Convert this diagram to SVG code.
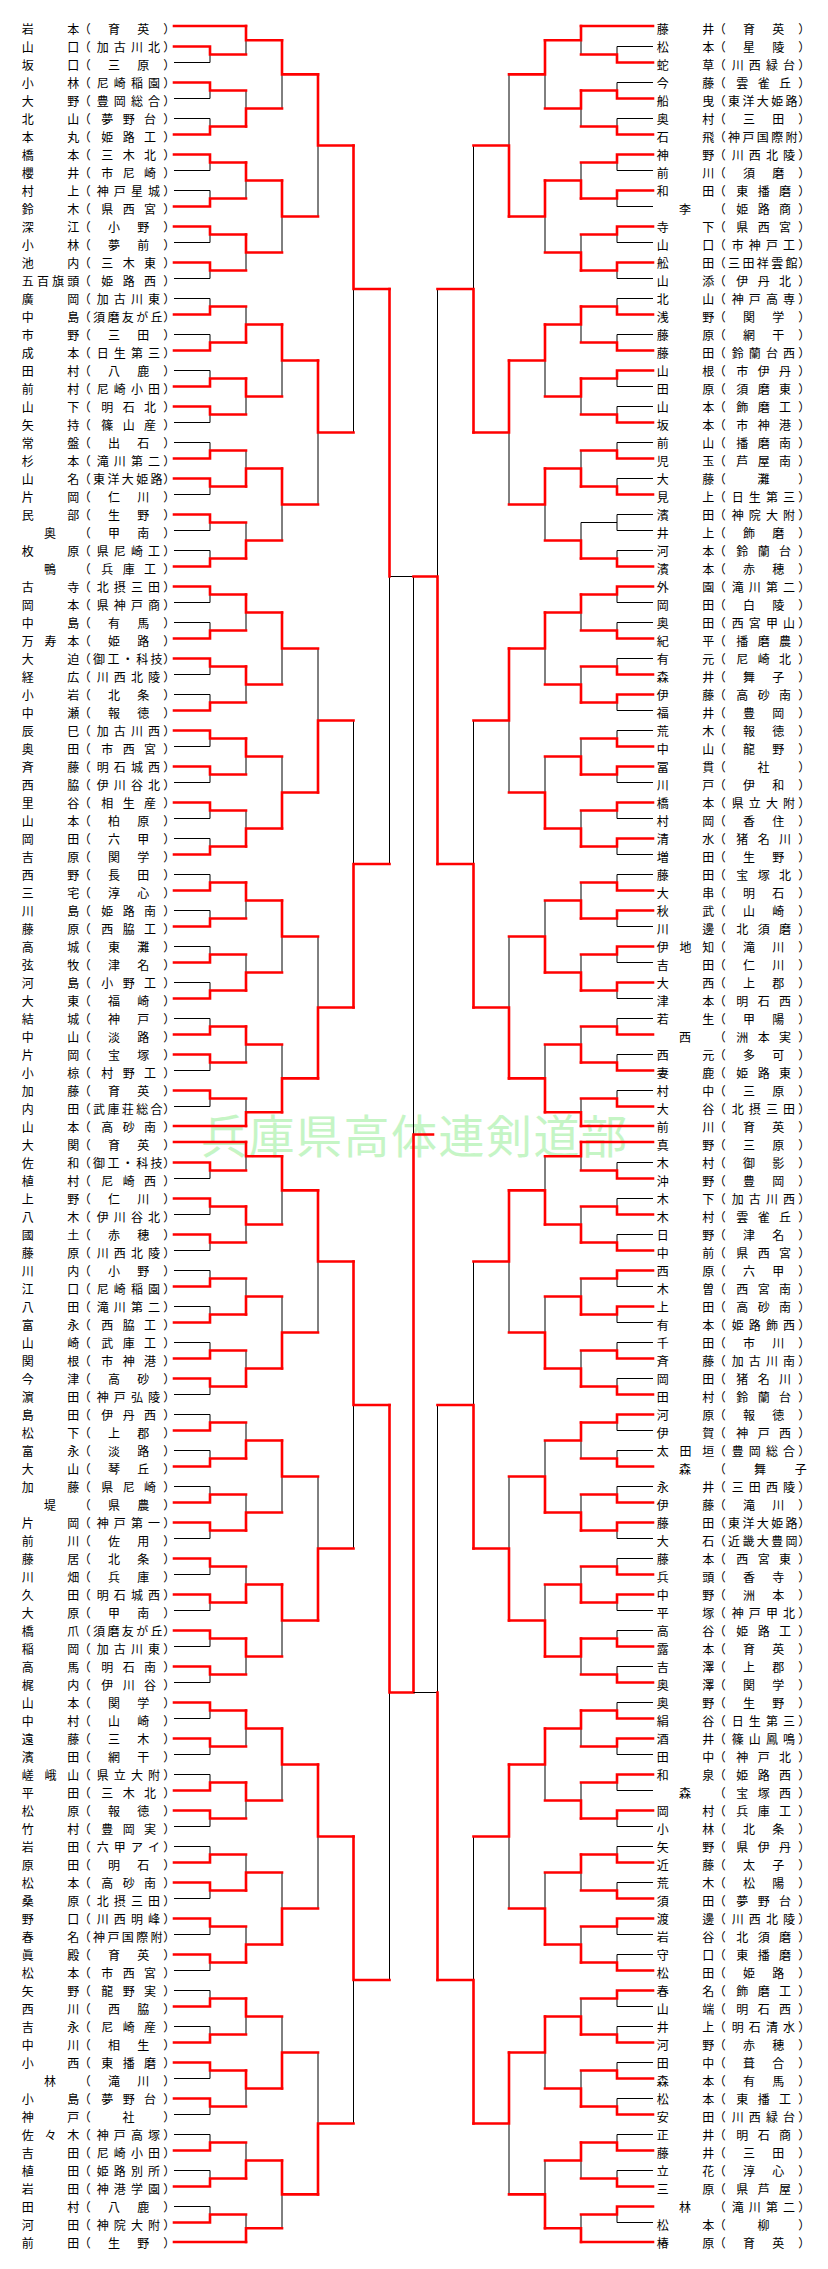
<svg xmlns="http://www.w3.org/2000/svg" width="828" height="2269" viewBox="0 0 828 2269">
<style>
.t{font-family:"Noto Sans CJK JP","Noto Sans CJK SC",sans-serif;font-size:12px;text-anchor:middle;fill:#000}
.k{fill:none;stroke:#000;stroke-width:1}
.r{fill:none;stroke:#f00;stroke-width:2.6;stroke-linecap:square;stroke-linejoin:miter}
.wm{font-family:"Noto Sans CJK JP","Noto Sans CJK SC",sans-serif;font-size:46px;fill:#c5f5c5}
</style>
<rect width="828" height="2269" fill="#fff"/>
<text class="wm" x="201" y="1153" textLength="426" lengthAdjust="spacing">兵庫県高体連剣道部</text>
<g id="connectors">
<g id="left-lines">
<path class="k" d="M174 62.5H210V54.5M174 98.5H210V90.5M174 118.5H210V126.5M174 170.5H210V162.5M174 190.5H210V198.5M174 242.5H210V234.5M174 278.5H210V270.5M174 298.5H210V306.5M174 334.5H210V342.5M174 370.5H210V378.5M174 422.5H210V414.5M174 442.5H210V450.5M174 494.5H210V486.5M174 530.5H210V522.5M174 550.5H210V558.5M174 602.5H210V594.5M174 622.5H210V630.5M174 674.5H210V666.5M174 694.5H210V702.5M174 746.5H210V738.5M174 782.5H210V774.5M174 818.5H210V810.5M174 838.5H210V846.5M174 874.5H210V882.5M174 910.5H210V918.5M174 946.5H210V954.5M174 982.5H210V990.5M174 1018.5H210V1026.5M174 1070.5H210V1062.5M174 1106.5H210V1098.5M174 1178.5H210V1170.5M174 1214.5H210V1206.5M174 1250.5H210V1242.5M174 1270.5H210V1278.5M174 1306.5H210V1314.5M174 1342.5H210V1350.5M174 1394.5H210V1386.5M174 1414.5H210V1422.5M174 1450.5H210V1458.5M174 1486.5H210V1494.5M174 1538.5H210V1530.5M174 1574.5H210V1566.5M174 1610.5H210V1602.5M174 1646.5H210V1638.5M174 1682.5H210V1674.5M174 1718.5H210V1710.5M174 1754.5H210V1746.5M174 1774.5H210V1782.5M174 1826.5H210V1818.5M174 1846.5H210V1854.5M174 1898.5H210V1890.5M174 1934.5H210V1926.5M174 1970.5H210V1962.5M174 1990.5H210V1998.5M174 2026.5H210V2034.5M174 2078.5H210V2070.5M174 2114.5H210V2106.5M174 2134.5H210V2142.5M174 2170.5H210V2178.5M174 2206.5H210V2214.5"/>
<path class="k" d="M246 54.5V40.3M246 90.5V108.5M246 198.5V180.5M246 270.5V252.5M246 306.5V324.5M246 414.5V396.5M246 450.5V468.5M246 522.5V540.5M246 630.5V612.5M246 702.5V684.5M246 774.5V756.5M246 810.5V828.5M246 918.5V900.5M246 954.5V972.5M246 1062.5V1044.5M246 1098.5V1112.3M246 1170.5V1156.3M246 1242.5V1224.5M246 1278.5V1296.5M246 1350.5V1368.5M246 1422.5V1440.5M246 1494.5V1512.5M246 1566.5V1584.5M246 1674.5V1656.5M246 1746.5V1728.5M246 1818.5V1800.5M246 1854.5V1872.5M246 1926.5V1944.5M246 2034.5V2016.5M246 2106.5V2088.5M246 2142.5V2160.5M246 2214.5V2228.3"/>
<path class="k" d="M282 108.5V74.4M282 252.5V216.5M282 396.5V360.5M282 540.5V504.5M282 684.5V648.5M282 756.5V792.5M282 972.5V936.5M282 1044.5V1078.4M282 1224.5V1190.4M282 1296.5V1332.5M282 1512.5V1476.5M282 1656.5V1620.5M282 1800.5V1764.5M282 1872.5V1908.5M282 2016.5V2052.5M282 2228.3V2194.4"/>
<path class="k" d="M318 216.5V145.5M318 504.5V432.5M318 648.5V720.5M318 936.5V1007.5M318 1332.5V1261.5M318 1476.5V1548.5M318 1908.5V1836.5M318 2052.5V2123.5"/>
<path class="k" d="M353.5 432.5V289M353.5 720.5V864M353.5 1548.5V1405M353.5 2123.5V1980"/>
<path class="k" d="M389.5 864V576.5H413.5M389.5 1980V1692.5M413.5 576.5V1134.5"/>
<path class="r" d="M174 26H246M174 1126H246M174 1142H246M174 2242H246M174 46.5H210V54.5H246M174 82.5H210V90.5H246M174 134.5H210V126.5H246M174 154.5H210V162.5H246M174 206.5H210V198.5H246M174 226.5H210V234.5H246M174 262.5H210V270.5H246M174 314.5H210V306.5H246M174 350.5H210V342.5H246M174 386.5H210V378.5H246M174 406.5H210V414.5H246M174 458.5H210V450.5H246M174 478.5H210V486.5H246M174 514.5H210V522.5H246M174 566.5H210V558.5H246M174 586.5H210V594.5H246M174 638.5H210V630.5H246M174 658.5H210V666.5H246M174 710.5H210V702.5H246M174 730.5H210V738.5H246M174 766.5H210V774.5H246M174 802.5H210V810.5H246M174 854.5H210V846.5H246M174 890.5H210V882.5H246M174 926.5H210V918.5H246M174 962.5H210V954.5H246M174 998.5H210V990.5H246M174 1034.5H210V1026.5H246M174 1054.5H210V1062.5H246M174 1090.5H210V1098.5H246M174 1162.5H210V1170.5H246M174 1198.5H210V1206.5H246M174 1234.5H210V1242.5H246M174 1286.5H210V1278.5H246M174 1322.5H210V1314.5H246M174 1358.5H210V1350.5H246M174 1378.5H210V1386.5H246M174 1430.5H210V1422.5H246M174 1466.5H210V1458.5H246M174 1502.5H210V1494.5H246M174 1522.5H210V1530.5H246M174 1558.5H210V1566.5H246M174 1594.5H210V1602.5H246M174 1630.5H210V1638.5H246M174 1666.5H210V1674.5H246M174 1702.5H210V1710.5H246M174 1738.5H210V1746.5H246M174 1790.5H210V1782.5H246M174 1810.5H210V1818.5H246M174 1862.5H210V1854.5H246M174 1882.5H210V1890.5H246M174 1918.5H210V1926.5H246M174 1954.5H210V1962.5H246M174 2006.5H210V1998.5H246M174 2042.5H210V2034.5H246M174 2062.5H210V2070.5H246M174 2098.5H210V2106.5H246M174 2150.5H210V2142.5H246M174 2186.5H210V2178.5H246M174 2222.5H210V2214.5H246"/>
<path class="r" d="M246 26V40.3H282M246 126.5V108.5H282M246 162.5V180.5H282M246 234.5V252.5H282M246 342.5V324.5H282M246 378.5V396.5H282M246 486.5V468.5H282M246 558.5V540.5H282M246 594.5V612.5H282M246 666.5V684.5H282M246 738.5V756.5H282M246 846.5V828.5H282M246 882.5V900.5H282M246 990.5V972.5H282M246 1026.5V1044.5H282M246 1126V1112.3H282M246 1142V1156.3H282M246 1206.5V1224.5H282M246 1314.5V1296.5H282M246 1386.5V1368.5H282M246 1458.5V1440.5H282M246 1530.5V1512.5H282M246 1602.5V1584.5H282M246 1638.5V1656.5H282M246 1710.5V1728.5H282M246 1782.5V1800.5H282M246 1890.5V1872.5H282M246 1962.5V1944.5H282M246 1998.5V2016.5H282M246 2070.5V2088.5H282M246 2178.5V2160.5H282M246 2242V2228.3H282"/>
<path class="r" d="M282 40.3V74.4H318M282 180.5V216.5H318M282 324.5V360.5H318M282 468.5V504.5H318M282 612.5V648.5H318M282 828.5V792.5H318M282 900.5V936.5H318M282 1112.3V1078.4H318M282 1156.3V1190.4H318M282 1368.5V1332.5H318M282 1440.5V1476.5H318M282 1584.5V1620.5H318M282 1728.5V1764.5H318M282 1944.5V1908.5H318M282 2088.5V2052.5H318M282 2160.5V2194.4H318"/>
<path class="r" d="M318 74.4V145.5H353.5M318 360.5V432.5H353.5M318 792.5V720.5H353.5M318 1078.4V1007.5H353.5M318 1190.4V1261.5H353.5M318 1620.5V1548.5H353.5M318 1764.5V1836.5H353.5M318 2194.4V2123.5H353.5"/>
<path class="r" d="M353.5 145.5V289H389.5M353.5 1007.5V864H389.5M353.5 1261.5V1405H389.5M353.5 1836.5V1980H389.5"/>
<path class="r" d="M389.5 289V576.5M389.5 1405V1692.5H413.5M413.5 1692.5V1134.5H433"/>
</g>
<g id="right-lines" transform="matrix(-1 0 0 1 827 0)">
<path class="k" d="M174 46.5H210V54.5M174 82.5H210V90.5M174 118.5H210V126.5M174 170.5H210V162.5M174 206.5H210V198.5M174 242.5H210V234.5M174 278.5H210V270.5M174 298.5H210V306.5M174 334.5H210V342.5M174 386.5H210V378.5M174 406.5H210V414.5M174 442.5H210V450.5M174 478.5H210V486.5M174 514.5H210V530.5H174M210 522.5H246M174 550.5H210V558.5M174 602.5H210V594.5M174 622.5H210V630.5M174 658.5H210V666.5M174 710.5H210V702.5M174 730.5H210V738.5M174 782.5H210V774.5M174 818.5H210V810.5M174 854.5H210V846.5M174 874.5H210V882.5M174 926.5H210V918.5M174 962.5H210V954.5M174 998.5H210V990.5M174 1018.5H210V1026.5M174 1054.5H210V1062.5M174 1090.5H210V1098.5M174 1162.5H210V1170.5M174 1198.5H210V1206.5M174 1234.5H210V1242.5M174 1286.5H210V1278.5M174 1322.5H210V1314.5M174 1342.5H210V1350.5M174 1378.5H210V1386.5M174 1430.5H210V1422.5M174 1450.5H210V1458.5M174 1486.5H210V1494.5M174 1538.5H210V1530.5M174 1558.5H210V1566.5M174 1610.5H210V1602.5M174 1630.5H210V1638.5M174 1666.5H210V1674.5M174 1702.5H210V1710.5M174 1754.5H210V1746.5M174 1790.5H210V1782.5M174 1826.5H210V1818.5M174 1846.5H210V1854.5M174 1882.5H210V1890.5M174 1934.5H210V1926.5M174 1954.5H210V1962.5M174 2006.5H210V1998.5M174 2026.5H210V2034.5M174 2062.5H210V2070.5M174 2098.5H210V2106.5M174 2134.5H210V2142.5M174 2170.5H210V2178.5M174 2222.5H210V2214.5"/>
<path class="k" d="M246 54.5V40.3M246 126.5V108.5M246 162.5V180.5M246 234.5V252.5M246 342.5V324.5M246 414.5V396.5M246 450.5V468.5M246 522.5V540.5M246 630.5V612.5M246 666.5V684.5M246 738.5V756.5M246 810.5V828.5M246 882.5V900.5M246 954.5V972.5M246 1026.5V1044.5M246 1098.5V1112.3M246 1170.5V1156.3M246 1206.5V1224.5M246 1278.5V1296.5M246 1350.5V1368.5M246 1458.5V1440.5M246 1494.5V1512.5M246 1566.5V1584.5M246 1674.5V1656.5M246 1746.5V1728.5M246 1782.5V1800.5M246 1890.5V1872.5M246 1926.5V1944.5M246 1998.5V2016.5M246 2070.5V2088.5M246 2178.5V2160.5M246 2214.5V2228.3"/>
<path class="k" d="M282 108.5V74.4M282 252.5V216.5M282 396.5V360.5M282 540.5V504.5M282 684.5V648.5M282 756.5V792.5M282 900.5V936.5M282 1044.5V1078.4M282 1156.3V1190.4M282 1296.5V1332.5M282 1440.5V1476.5M282 1584.5V1620.5M282 1800.5V1764.5M282 1872.5V1908.5M282 2088.5V2052.5M282 2160.5V2194.4"/>
<path class="k" d="M318 74.4V145.5M318 504.5V432.5M318 792.5V720.5M318 936.5V1007.5M318 1332.5V1261.5M318 1476.5V1548.5M318 1908.5V1836.5M318 2194.4V2123.5"/>
<path class="k" d="M353.5 145.5V289M353.5 720.5V864M353.5 1261.5V1405M353.5 1836.5V1980"/>
<path class="k" d="M389.5 289V576.5M389.5 1405V1692.5H413.5"/>
<path class="r" d="M174 26H246M174 1126H246M174 1142H246M174 2242H246M174 62.5H210V54.5H246M174 98.5H210V90.5H246M174 134.5H210V126.5H246M174 154.5H210V162.5H246M174 190.5H210V198.5H246M174 226.5H210V234.5H246M174 262.5H210V270.5H246M174 314.5H210V306.5H246M174 350.5H210V342.5H246M174 370.5H210V378.5H246M174 422.5H210V414.5H246M174 458.5H210V450.5H246M174 494.5H210V486.5H246M174 566.5H210V558.5H246M174 586.5H210V594.5H246M174 638.5H210V630.5H246M174 674.5H210V666.5H246M174 694.5H210V702.5H246M174 746.5H210V738.5H246M174 766.5H210V774.5H246M174 802.5H210V810.5H246M174 838.5H210V846.5H246M174 890.5H210V882.5H246M174 910.5H210V918.5H246M174 946.5H210V954.5H246M174 982.5H210V990.5H246M174 1034.5H210V1026.5H246M174 1070.5H210V1062.5H246M174 1106.5H210V1098.5H246M174 1178.5H210V1170.5H246M174 1214.5H210V1206.5H246M174 1250.5H210V1242.5H246M174 1270.5H210V1278.5H246M174 1306.5H210V1314.5H246M174 1358.5H210V1350.5H246M174 1394.5H210V1386.5H246M174 1414.5H210V1422.5H246M174 1466.5H210V1458.5H246M174 1502.5H210V1494.5H246M174 1522.5H210V1530.5H246M174 1574.5H210V1566.5H246M174 1594.5H210V1602.5H246M174 1646.5H210V1638.5H246M174 1682.5H210V1674.5H246M174 1718.5H210V1710.5H246M174 1738.5H210V1746.5H246M174 1774.5H210V1782.5H246M174 1810.5H210V1818.5H246M174 1862.5H210V1854.5H246M174 1898.5H210V1890.5H246M174 1918.5H210V1926.5H246M174 1970.5H210V1962.5H246M174 1990.5H210V1998.5H246M174 2042.5H210V2034.5H246M174 2078.5H210V2070.5H246M174 2114.5H210V2106.5H246M174 2150.5H210V2142.5H246M174 2186.5H210V2178.5H246M174 2206.5H210V2214.5H246"/>
<path class="r" d="M246 26V40.3H282M246 90.5V108.5H282M246 198.5V180.5H282M246 270.5V252.5H282M246 306.5V324.5H282M246 378.5V396.5H282M246 486.5V468.5H282M246 558.5V540.5H282M246 594.5V612.5H282M246 702.5V684.5H282M246 774.5V756.5H282M246 846.5V828.5H282M246 918.5V900.5H282M246 990.5V972.5H282M246 1062.5V1044.5H282M246 1126V1112.3H282M246 1142V1156.3H282M246 1242.5V1224.5H282M246 1314.5V1296.5H282M246 1386.5V1368.5H282M246 1422.5V1440.5H282M246 1530.5V1512.5H282M246 1602.5V1584.5H282M246 1638.5V1656.5H282M246 1710.5V1728.5H282M246 1818.5V1800.5H282M246 1854.5V1872.5H282M246 1962.5V1944.5H282M246 2034.5V2016.5H282M246 2106.5V2088.5H282M246 2142.5V2160.5H282M246 2242V2228.3H282"/>
<path class="r" d="M282 40.3V74.4H318M282 180.5V216.5H318M282 324.5V360.5H318M282 468.5V504.5H318M282 612.5V648.5H318M282 828.5V792.5H318M282 972.5V936.5H318M282 1112.3V1078.4H318M282 1224.5V1190.4H318M282 1368.5V1332.5H318M282 1512.5V1476.5H318M282 1656.5V1620.5H318M282 1728.5V1764.5H318M282 1944.5V1908.5H318M282 2016.5V2052.5H318M282 2228.3V2194.4H318"/>
<path class="r" d="M318 216.5V145.5H353.5M318 360.5V432.5H353.5M318 648.5V720.5H353.5M318 1078.4V1007.5H353.5M318 1190.4V1261.5H353.5M318 1620.5V1548.5H353.5M318 1764.5V1836.5H353.5M318 2052.5V2123.5H353.5"/>
<path class="r" d="M353.5 432.5V289H389.5M353.5 1007.5V864H389.5M353.5 1548.5V1405H389.5M353.5 2123.5V1980H389.5"/>
<path class="r" d="M389.5 864V576.5H413.5M389.5 1980V1692.5"/>
</g>
</g>
<g id="left-entries">
<g id="L0"><text class="t" y="33.5" x="27.7 73.3 84.7 114 143.3 169.3">岩本（育英）</text></g>
<g id="L1" transform="translate(0,18)"><text class="t" y="33.5" x="27.7 73.3 84.7 102.7 119.8 136.9 154 169.3">山口（加古川北）</text></g>
<g id="L2" transform="translate(0,36)"><text class="t" y="33.5" x="27.7 73.3 84.7 114 143.3 169.3">坂口（三原）</text></g>
<g id="L3" transform="translate(0,54)"><text class="t" y="33.5" x="27.7 73.3 84.7 102.7 119.8 136.9 154 169.3">小林（尼崎稲園）</text></g>
<g id="L4" transform="translate(0,72)"><text class="t" y="33.5" x="27.7 73.3 84.7 102.7 119.8 136.9 154 169.3">大野（豊岡総合）</text></g>
<g id="L5" transform="translate(0,90)"><text class="t" y="33.5" x="27.7 73.3 84.7 107.3 128.7 150 169.3">北山（夢野台）</text></g>
<g id="L6" transform="translate(0,108)"><text class="t" y="33.5" x="27.7 73.3 84.7 107.3 128.7 150 169.3">本丸（姫路工）</text></g>
<g id="L7" transform="translate(0,126)"><text class="t" y="33.5" x="27.7 73.3 84.7 107.3 128.7 150 169.3">橋本（三木北）</text></g>
<g id="L8" transform="translate(0,144)"><text class="t" y="33.5" x="27.7 73.3 84.7 107.3 128.7 150 169.3">櫻井（市尼崎）</text></g>
<g id="L9" transform="translate(0,162)"><text class="t" y="33.5" x="27.7 73.3 84.7 102.7 119.8 136.9 154 169.3">村上（神戸星城）</text></g>
<g id="L10" transform="translate(0,180)"><text class="t" y="33.5" x="27.7 73.3 84.7 107.3 128.7 150 169.3">鈴木（県西宮）</text></g>
<g id="L11" transform="translate(0,198)"><text class="t" y="33.5" x="27.7 73.3 84.7 114 143.3 169.3">深江（小野）</text></g>
<g id="L12" transform="translate(0,216)"><text class="t" y="33.5" x="27.7 73.3 84.7 114 143.3 169.3">小林（夢前）</text></g>
<g id="L13" transform="translate(0,234)"><text class="t" y="33.5" x="27.7 73.3 84.7 107.3 128.7 150 169.3">池内（三木東）</text></g>
<g id="L14" transform="translate(0,252)"><text class="t" y="33.5" x="27.7 42.9 58.1 73.3 84.7 107.3 128.7 150 169.3">五百旗頭（姫路西）</text></g>
<g id="L15" transform="translate(0,270)"><text class="t" y="33.5" x="27.7 73.3 84.7 102.7 119.8 136.9 154 169.3">廣岡（加古川東）</text></g>
<g id="L16" transform="translate(0,288)"><text class="t" y="33.5" x="27.7 73.3 84.7 99 113.4 127.8 142.2 156.6 169.3">中島（須磨友が丘）</text></g>
<g id="L17" transform="translate(0,306)"><text class="t" y="33.5" x="27.7 73.3 84.7 114 143.3 169.3">市野（三田）</text></g>
<g id="L18" transform="translate(0,324)"><text class="t" y="33.5" x="27.7 73.3 84.7 102.7 119.8 136.9 154 169.3">成本（日生第三）</text></g>
<g id="L19" transform="translate(0,342)"><text class="t" y="33.5" x="27.7 73.3 84.7 114 143.3 169.3">田村（八鹿）</text></g>
<g id="L20" transform="translate(0,360)"><text class="t" y="33.5" x="27.7 73.3 84.7 102.7 119.8 136.9 154 169.3">前村（尼崎小田）</text></g>
<g id="L21" transform="translate(0,378)"><text class="t" y="33.5" x="27.7 73.3 84.7 107.3 128.7 150 169.3">山下（明石北）</text></g>
<g id="L22" transform="translate(0,396)"><text class="t" y="33.5" x="27.7 73.3 84.7 107.3 128.7 150 169.3">矢持（篠山産）</text></g>
<g id="L23" transform="translate(0,414)"><text class="t" y="33.5" x="27.7 73.3 84.7 114 143.3 169.3">常盤（出石）</text></g>
<g id="L24" transform="translate(0,432)"><text class="t" y="33.5" x="27.7 73.3 84.7 102.7 119.8 136.9 154 169.3">杉本（滝川第二）</text></g>
<g id="L25" transform="translate(0,450)"><text class="t" y="33.5" x="27.7 73.3 84.7 99 113.4 127.8 142.2 156.6 169.3">山名（東洋大姫路）</text></g>
<g id="L26" transform="translate(0,468)"><text class="t" y="33.5" x="27.7 73.3 84.7 114 143.3 169.3">片岡（仁川）</text></g>
<g id="L27" transform="translate(0,486)"><text class="t" y="33.5" x="27.7 73.3 84.7 114 143.3 169.3">民部（生野）</text></g>
<g id="L28" transform="translate(0,504)"><text class="t" y="33.5" x="50 84.7 114 143.3 169.3">奥（甲南）</text></g>
<g id="L29" transform="translate(0,522)"><text class="t" y="33.5" x="27.7 73.3 84.7 102.7 119.8 136.9 154 169.3">枚原（県尼崎工）</text></g>
<g id="L30" transform="translate(0,540)"><text class="t" y="33.5" x="50 84.7 107.3 128.7 150 169.3">鴨（兵庫工）</text></g>
<g id="L31" transform="translate(0,558)"><text class="t" y="33.5" x="27.7 73.3 84.7 102.7 119.8 136.9 154 169.3">古寺（北摂三田）</text></g>
<g id="L32" transform="translate(0,576)"><text class="t" y="33.5" x="27.7 73.3 84.7 102.7 119.8 136.9 154 169.3">岡本（県神戸商）</text></g>
<g id="L33" transform="translate(0,594)"><text class="t" y="33.5" x="27.7 73.3 84.7 114 143.3 169.3">中島（有馬）</text></g>
<g id="L34" transform="translate(0,612)"><text class="t" y="33.5" x="27.7 50.5 73.3 84.7 114 143.3 169.3">万寿本（姫路）</text></g>
<g id="L35" transform="translate(0,630)"><text class="t" y="33.5" x="27.7 73.3 84.7 99 113.4 127.8 142.2 156.6 169.3">大迫（御工・科技）</text></g>
<g id="L36" transform="translate(0,648)"><text class="t" y="33.5" x="27.7 73.3 84.7 102.7 119.8 136.9 154 169.3">経広（川西北陵）</text></g>
<g id="L37" transform="translate(0,666)"><text class="t" y="33.5" x="27.7 73.3 84.7 114 143.3 169.3">小岩（北条）</text></g>
<g id="L38" transform="translate(0,684)"><text class="t" y="33.5" x="27.7 73.3 84.7 114 143.3 169.3">中瀬（報徳）</text></g>
<g id="L39" transform="translate(0,702)"><text class="t" y="33.5" x="27.7 73.3 84.7 102.7 119.8 136.9 154 169.3">辰巳（加古川西）</text></g>
<g id="L40" transform="translate(0,720)"><text class="t" y="33.5" x="27.7 73.3 84.7 107.3 128.7 150 169.3">奥田（市西宮）</text></g>
<g id="L41" transform="translate(0,738)"><text class="t" y="33.5" x="27.7 73.3 84.7 102.7 119.8 136.9 154 169.3">斉藤（明石城西）</text></g>
<g id="L42" transform="translate(0,756)"><text class="t" y="33.5" x="27.7 73.3 84.7 102.7 119.8 136.9 154 169.3">西脇（伊川谷北）</text></g>
<g id="L43" transform="translate(0,774)"><text class="t" y="33.5" x="27.7 73.3 84.7 107.3 128.7 150 169.3">里谷（相生産）</text></g>
<g id="L44" transform="translate(0,792)"><text class="t" y="33.5" x="27.7 73.3 84.7 114 143.3 169.3">山本（柏原）</text></g>
<g id="L45" transform="translate(0,810)"><text class="t" y="33.5" x="27.7 73.3 84.7 114 143.3 169.3">岡田（六甲）</text></g>
<g id="L46" transform="translate(0,828)"><text class="t" y="33.5" x="27.7 73.3 84.7 114 143.3 169.3">吉原（関学）</text></g>
<g id="L47" transform="translate(0,846)"><text class="t" y="33.5" x="27.7 73.3 84.7 114 143.3 169.3">西野（長田）</text></g>
<g id="L48" transform="translate(0,864)"><text class="t" y="33.5" x="27.7 73.3 84.7 114 143.3 169.3">三宅（淳心）</text></g>
<g id="L49" transform="translate(0,882)"><text class="t" y="33.5" x="27.7 73.3 84.7 107.3 128.7 150 169.3">川島（姫路南）</text></g>
<g id="L50" transform="translate(0,900)"><text class="t" y="33.5" x="27.7 73.3 84.7 107.3 128.7 150 169.3">藤原（西脇工）</text></g>
<g id="L51" transform="translate(0,918)"><text class="t" y="33.5" x="27.7 73.3 84.7 114 143.3 169.3">高城（東灘）</text></g>
<g id="L52" transform="translate(0,936)"><text class="t" y="33.5" x="27.7 73.3 84.7 114 143.3 169.3">弦牧（津名）</text></g>
<g id="L53" transform="translate(0,954)"><text class="t" y="33.5" x="27.7 73.3 84.7 107.3 128.7 150 169.3">河島（小野工）</text></g>
<g id="L54" transform="translate(0,972)"><text class="t" y="33.5" x="27.7 73.3 84.7 114 143.3 169.3">大東（福崎）</text></g>
<g id="L55" transform="translate(0,990)"><text class="t" y="33.5" x="27.7 73.3 84.7 114 143.3 169.3">結城（神戸）</text></g>
<g id="L56" transform="translate(0,1008)"><text class="t" y="33.5" x="27.7 73.3 84.7 114 143.3 169.3">中山（淡路）</text></g>
<g id="L57" transform="translate(0,1026)"><text class="t" y="33.5" x="27.7 73.3 84.7 114 143.3 169.3">片岡（宝塚）</text></g>
<g id="L58" transform="translate(0,1044)"><text class="t" y="33.5" x="27.7 73.3 84.7 107.3 128.7 150 169.3">小椋（村野工）</text></g>
<g id="L59" transform="translate(0,1062)"><text class="t" y="33.5" x="27.7 73.3 84.7 114 143.3 169.3">加藤（育英）</text></g>
<g id="L60" transform="translate(0,1080)"><text class="t" y="33.5" x="27.7 73.3 84.7 99 113.4 127.8 142.2 156.6 169.3">内田（武庫荘総合）</text></g>
<g id="L61" transform="translate(0,1098)"><text class="t" y="33.5" x="27.7 73.3 84.7 107.3 128.7 150 169.3">山本（高砂南）</text></g>
<g id="L62" transform="translate(0,1116)"><text class="t" y="33.5" x="27.7 73.3 84.7 114 143.3 169.3">大関（育英）</text></g>
<g id="L63" transform="translate(0,1134)"><text class="t" y="33.5" x="27.7 73.3 84.7 99 113.4 127.8 142.2 156.6 169.3">佐和（御工・科技）</text></g>
<g id="L64" transform="translate(0,1152)"><text class="t" y="33.5" x="27.7 73.3 84.7 107.3 128.7 150 169.3">植村（尼崎西）</text></g>
<g id="L65" transform="translate(0,1170)"><text class="t" y="33.5" x="27.7 73.3 84.7 114 143.3 169.3">上野（仁川）</text></g>
<g id="L66" transform="translate(0,1188)"><text class="t" y="33.5" x="27.7 73.3 84.7 102.7 119.8 136.9 154 169.3">八木（伊川谷北）</text></g>
<g id="L67" transform="translate(0,1206)"><text class="t" y="33.5" x="27.7 73.3 84.7 114 143.3 169.3">國土（赤穂）</text></g>
<g id="L68" transform="translate(0,1224)"><text class="t" y="33.5" x="27.7 73.3 84.7 102.7 119.8 136.9 154 169.3">藤原（川西北陵）</text></g>
<g id="L69" transform="translate(0,1242)"><text class="t" y="33.5" x="27.7 73.3 84.7 114 143.3 169.3">川内（小野）</text></g>
<g id="L70" transform="translate(0,1260)"><text class="t" y="33.5" x="27.7 73.3 84.7 102.7 119.8 136.9 154 169.3">江口（尼崎稲園）</text></g>
<g id="L71" transform="translate(0,1278)"><text class="t" y="33.5" x="27.7 73.3 84.7 102.7 119.8 136.9 154 169.3">八田（滝川第二）</text></g>
<g id="L72" transform="translate(0,1296)"><text class="t" y="33.5" x="27.7 73.3 84.7 107.3 128.7 150 169.3">富永（西脇工）</text></g>
<g id="L73" transform="translate(0,1314)"><text class="t" y="33.5" x="27.7 73.3 84.7 107.3 128.7 150 169.3">山崎（武庫工）</text></g>
<g id="L74" transform="translate(0,1332)"><text class="t" y="33.5" x="27.7 73.3 84.7 107.3 128.7 150 169.3">関根（市神港）</text></g>
<g id="L75" transform="translate(0,1350)"><text class="t" y="33.5" x="27.7 73.3 84.7 114 143.3 169.3">今津（高砂）</text></g>
<g id="L76" transform="translate(0,1368)"><text class="t" y="33.5" x="27.7 73.3 84.7 102.7 119.8 136.9 154 169.3">濵田（神戸弘陵）</text></g>
<g id="L77" transform="translate(0,1386)"><text class="t" y="33.5" x="27.7 73.3 84.7 107.3 128.7 150 169.3">島田（伊丹西）</text></g>
<g id="L78" transform="translate(0,1404)"><text class="t" y="33.5" x="27.7 73.3 84.7 114 143.3 169.3">松下（上郡）</text></g>
<g id="L79" transform="translate(0,1422)"><text class="t" y="33.5" x="27.7 73.3 84.7 114 143.3 169.3">富永（淡路）</text></g>
<g id="L80" transform="translate(0,1440)"><text class="t" y="33.5" x="27.7 73.3 84.7 114 143.3 169.3">大山（琴丘）</text></g>
<g id="L81" transform="translate(0,1458)"><text class="t" y="33.5" x="27.7 73.3 84.7 107.3 128.7 150 169.3">加藤（県尼崎）</text></g>
<g id="L82" transform="translate(0,1476)"><text class="t" y="33.5" x="50 84.7 114 143.3 169.3">堤（県農）</text></g>
<g id="L83" transform="translate(0,1494)"><text class="t" y="33.5" x="27.7 73.3 84.7 102.7 119.8 136.9 154 169.3">片岡（神戸第一）</text></g>
<g id="L84" transform="translate(0,1512)"><text class="t" y="33.5" x="27.7 73.3 84.7 114 143.3 169.3">前川（佐用）</text></g>
<g id="L85" transform="translate(0,1530)"><text class="t" y="33.5" x="27.7 73.3 84.7 114 143.3 169.3">藤居（北条）</text></g>
<g id="L86" transform="translate(0,1548)"><text class="t" y="33.5" x="27.7 73.3 84.7 114 143.3 169.3">川畑（兵庫）</text></g>
<g id="L87" transform="translate(0,1566)"><text class="t" y="33.5" x="27.7 73.3 84.7 102.7 119.8 136.9 154 169.3">久田（明石城西）</text></g>
<g id="L88" transform="translate(0,1584)"><text class="t" y="33.5" x="27.7 73.3 84.7 114 143.3 169.3">大原（甲南）</text></g>
<g id="L89" transform="translate(0,1602)"><text class="t" y="33.5" x="27.7 73.3 84.7 99 113.4 127.8 142.2 156.6 169.3">橋爪（須磨友が丘）</text></g>
<g id="L90" transform="translate(0,1620)"><text class="t" y="33.5" x="27.7 73.3 84.7 102.7 119.8 136.9 154 169.3">稲岡（加古川東）</text></g>
<g id="L91" transform="translate(0,1638)"><text class="t" y="33.5" x="27.7 73.3 84.7 107.3 128.7 150 169.3">高馬（明石南）</text></g>
<g id="L92" transform="translate(0,1656)"><text class="t" y="33.5" x="27.7 73.3 84.7 107.3 128.7 150 169.3">梶内（伊川谷）</text></g>
<g id="L93" transform="translate(0,1674)"><text class="t" y="33.5" x="27.7 73.3 84.7 114 143.3 169.3">山本（関学）</text></g>
<g id="L94" transform="translate(0,1692)"><text class="t" y="33.5" x="27.7 73.3 84.7 114 143.3 169.3">中村（山崎）</text></g>
<g id="L95" transform="translate(0,1710)"><text class="t" y="33.5" x="27.7 73.3 84.7 114 143.3 169.3">遠藤（三木）</text></g>
<g id="L96" transform="translate(0,1728)"><text class="t" y="33.5" x="27.7 73.3 84.7 114 143.3 169.3">濱田（網干）</text></g>
<g id="L97" transform="translate(0,1746)"><text class="t" y="33.5" x="27.7 50.5 73.3 84.7 102.7 119.8 136.9 154 169.3">嵯峨山（県立大附）</text></g>
<g id="L98" transform="translate(0,1764)"><text class="t" y="33.5" x="27.7 73.3 84.7 107.3 128.7 150 169.3">平田（三木北）</text></g>
<g id="L99" transform="translate(0,1782)"><text class="t" y="33.5" x="27.7 73.3 84.7 114 143.3 169.3">松原（報徳）</text></g>
<g id="L100" transform="translate(0,1800)"><text class="t" y="33.5" x="27.7 73.3 84.7 107.3 128.7 150 169.3">竹村（豊岡実）</text></g>
<g id="L101" transform="translate(0,1818)"><text class="t" y="33.5" x="27.7 73.3 84.7 102.7 119.8 136.9 154 169.3">岩田（六甲アイ）</text></g>
<g id="L102" transform="translate(0,1836)"><text class="t" y="33.5" x="27.7 73.3 84.7 114 143.3 169.3">原田（明石）</text></g>
<g id="L103" transform="translate(0,1854)"><text class="t" y="33.5" x="27.7 73.3 84.7 107.3 128.7 150 169.3">松本（高砂南）</text></g>
<g id="L104" transform="translate(0,1872)"><text class="t" y="33.5" x="27.7 73.3 84.7 102.7 119.8 136.9 154 169.3">桑原（北摂三田）</text></g>
<g id="L105" transform="translate(0,1890)"><text class="t" y="33.5" x="27.7 73.3 84.7 102.7 119.8 136.9 154 169.3">野口（川西明峰）</text></g>
<g id="L106" transform="translate(0,1908)"><text class="t" y="33.5" x="27.7 73.3 84.7 99 113.4 127.8 142.2 156.6 169.3">春名（神戸国際附）</text></g>
<g id="L107" transform="translate(0,1926)"><text class="t" y="33.5" x="27.7 73.3 84.7 114 143.3 169.3">眞殿（育英）</text></g>
<g id="L108" transform="translate(0,1944)"><text class="t" y="33.5" x="27.7 73.3 84.7 107.3 128.7 150 169.3">松本（市西宮）</text></g>
<g id="L109" transform="translate(0,1962)"><text class="t" y="33.5" x="27.7 73.3 84.7 107.3 128.7 150 169.3">矢野（龍野実）</text></g>
<g id="L110" transform="translate(0,1980)"><text class="t" y="33.5" x="27.7 73.3 84.7 114 143.3 169.3">西川（西脇）</text></g>
<g id="L111" transform="translate(0,1998)"><text class="t" y="33.5" x="27.7 73.3 84.7 107.3 128.7 150 169.3">吉永（尼崎産）</text></g>
<g id="L112" transform="translate(0,2016)"><text class="t" y="33.5" x="27.7 73.3 84.7 114 143.3 169.3">中川（相生）</text></g>
<g id="L113" transform="translate(0,2034)"><text class="t" y="33.5" x="27.7 73.3 84.7 107.3 128.7 150 169.3">小西（東播磨）</text></g>
<g id="L114" transform="translate(0,2052)"><text class="t" y="33.5" x="50 84.7 114 143.3 169.3">林（滝川）</text></g>
<g id="L115" transform="translate(0,2070)"><text class="t" y="33.5" x="27.7 73.3 84.7 107.3 128.7 150 169.3">小島（夢野台）</text></g>
<g id="L116" transform="translate(0,2088)"><text class="t" y="33.5" x="27.7 73.3 84.7 128.5 169.3">神戸（社）</text></g>
<g id="L117" transform="translate(0,2106)"><text class="t" y="33.5" x="27.7 50.5 73.3 84.7 102.7 119.8 136.9 154 169.3">佐々木（神戸高塚）</text></g>
<g id="L118" transform="translate(0,2124)"><text class="t" y="33.5" x="27.7 73.3 84.7 102.7 119.8 136.9 154 169.3">吉田（尼崎小田）</text></g>
<g id="L119" transform="translate(0,2142)"><text class="t" y="33.5" x="27.7 73.3 84.7 102.7 119.8 136.9 154 169.3">植田（姫路別所）</text></g>
<g id="L120" transform="translate(0,2160)"><text class="t" y="33.5" x="27.7 73.3 84.7 102.7 119.8 136.9 154 169.3">岩田（神港学園）</text></g>
<g id="L121" transform="translate(0,2178)"><text class="t" y="33.5" x="27.7 73.3 84.7 114 143.3 169.3">田村（八鹿）</text></g>
<g id="L122" transform="translate(0,2196)"><text class="t" y="33.5" x="27.7 73.3 84.7 102.7 119.8 136.9 154 169.3">河田（神院大附）</text></g>
<g id="L123" transform="translate(0,2214)"><text class="t" y="33.5" x="27.7 73.3 84.7 114 143.3 169.3">前田（生野）</text></g>
</g>
<g id="right-entries">
<g id="R0" transform="translate(635,0)"><text class="t" y="33.5" x="27.7 73.3 84.7 114 143.3 169.3">藤井（育英）</text></g>
<g id="R1" transform="translate(635,18)"><text class="t" y="33.5" x="27.7 73.3 84.7 114 143.3 169.3">松本（星陵）</text></g>
<g id="R2" transform="translate(635,36)"><text class="t" y="33.5" x="27.7 73.3 84.7 102.7 119.8 136.9 154 169.3">蛇草（川西緑台）</text></g>
<g id="R3" transform="translate(635,54)"><text class="t" y="33.5" x="27.7 73.3 84.7 107.3 128.7 150 169.3">今藤（雲雀丘）</text></g>
<g id="R4" transform="translate(635,72)"><text class="t" y="33.5" x="27.7 73.3 84.7 99 113.4 127.8 142.2 156.6 169.3">船曳（東洋大姫路）</text></g>
<g id="R5" transform="translate(635,90)"><text class="t" y="33.5" x="27.7 73.3 84.7 114 143.3 169.3">奥村（三田）</text></g>
<g id="R6" transform="translate(635,108)"><text class="t" y="33.5" x="27.7 73.3 84.7 99 113.4 127.8 142.2 156.6 169.3">石飛（神戸国際附）</text></g>
<g id="R7" transform="translate(635,126)"><text class="t" y="33.5" x="27.7 73.3 84.7 102.7 119.8 136.9 154 169.3">神野（川西北陵）</text></g>
<g id="R8" transform="translate(635,144)"><text class="t" y="33.5" x="27.7 73.3 84.7 114 143.3 169.3">前川（須磨）</text></g>
<g id="R9" transform="translate(635,162)"><text class="t" y="33.5" x="27.7 73.3 84.7 107.3 128.7 150 169.3">和田（東播磨）</text></g>
<g id="R10" transform="translate(635,180)"><text class="t" y="33.5" x="50 84.7 107.3 128.7 150 169.3">李（姫路商）</text></g>
<g id="R11" transform="translate(635,198)"><text class="t" y="33.5" x="27.7 73.3 84.7 107.3 128.7 150 169.3">寺下（県西宮）</text></g>
<g id="R12" transform="translate(635,216)"><text class="t" y="33.5" x="27.7 73.3 84.7 102.7 119.8 136.9 154 169.3">山口（市神戸工）</text></g>
<g id="R13" transform="translate(635,234)"><text class="t" y="33.5" x="27.7 73.3 84.7 99 113.4 127.8 142.2 156.6 169.3">舩田（三田祥雲館）</text></g>
<g id="R14" transform="translate(635,252)"><text class="t" y="33.5" x="27.7 73.3 84.7 107.3 128.7 150 169.3">山添（伊丹北）</text></g>
<g id="R15" transform="translate(635,270)"><text class="t" y="33.5" x="27.7 73.3 84.7 102.7 119.8 136.9 154 169.3">北山（神戸高専）</text></g>
<g id="R16" transform="translate(635,288)"><text class="t" y="33.5" x="27.7 73.3 84.7 114 143.3 169.3">浅野（関学）</text></g>
<g id="R17" transform="translate(635,306)"><text class="t" y="33.5" x="27.7 73.3 84.7 114 143.3 169.3">藤原（網干）</text></g>
<g id="R18" transform="translate(635,324)"><text class="t" y="33.5" x="27.7 73.3 84.7 102.7 119.8 136.9 154 169.3">藤田（鈴蘭台西）</text></g>
<g id="R19" transform="translate(635,342)"><text class="t" y="33.5" x="27.7 73.3 84.7 107.3 128.7 150 169.3">山根（市伊丹）</text></g>
<g id="R20" transform="translate(635,360)"><text class="t" y="33.5" x="27.7 73.3 84.7 107.3 128.7 150 169.3">田原（須磨東）</text></g>
<g id="R21" transform="translate(635,378)"><text class="t" y="33.5" x="27.7 73.3 84.7 107.3 128.7 150 169.3">山本（飾磨工）</text></g>
<g id="R22" transform="translate(635,396)"><text class="t" y="33.5" x="27.7 73.3 84.7 107.3 128.7 150 169.3">坂本（市神港）</text></g>
<g id="R23" transform="translate(635,414)"><text class="t" y="33.5" x="27.7 73.3 84.7 107.3 128.7 150 169.3">前山（播磨南）</text></g>
<g id="R24" transform="translate(635,432)"><text class="t" y="33.5" x="27.7 73.3 84.7 107.3 128.7 150 169.3">児玉（芦屋南）</text></g>
<g id="R25" transform="translate(635,450)"><text class="t" y="33.5" x="27.7 73.3 84.7 128.5 169.3">大藤（灘）</text></g>
<g id="R26" transform="translate(635,468)"><text class="t" y="33.5" x="27.7 73.3 84.7 102.7 119.8 136.9 154 169.3">見上（日生第三）</text></g>
<g id="R27" transform="translate(635,486)"><text class="t" y="33.5" x="27.7 73.3 84.7 102.7 119.8 136.9 154 169.3">濱田（神院大附）</text></g>
<g id="R28" transform="translate(635,504)"><text class="t" y="33.5" x="27.7 73.3 84.7 114 143.3 169.3">井上（飾磨）</text></g>
<g id="R29" transform="translate(635,522)"><text class="t" y="33.5" x="27.7 73.3 84.7 107.3 128.7 150 169.3">河本（鈴蘭台）</text></g>
<g id="R30" transform="translate(635,540)"><text class="t" y="33.5" x="27.7 73.3 84.7 114 143.3 169.3">濱本（赤穂）</text></g>
<g id="R31" transform="translate(635,558)"><text class="t" y="33.5" x="27.7 73.3 84.7 102.7 119.8 136.9 154 169.3">外園（滝川第二）</text></g>
<g id="R32" transform="translate(635,576)"><text class="t" y="33.5" x="27.7 73.3 84.7 114 143.3 169.3">岡田（白陵）</text></g>
<g id="R33" transform="translate(635,594)"><text class="t" y="33.5" x="27.7 73.3 84.7 102.7 119.8 136.9 154 169.3">奥田（西宮甲山）</text></g>
<g id="R34" transform="translate(635,612)"><text class="t" y="33.5" x="27.7 73.3 84.7 107.3 128.7 150 169.3">紀平（播磨農）</text></g>
<g id="R35" transform="translate(635,630)"><text class="t" y="33.5" x="27.7 73.3 84.7 107.3 128.7 150 169.3">有元（尼崎北）</text></g>
<g id="R36" transform="translate(635,648)"><text class="t" y="33.5" x="27.7 73.3 84.7 114 143.3 169.3">森井（舞子）</text></g>
<g id="R37" transform="translate(635,666)"><text class="t" y="33.5" x="27.7 73.3 84.7 107.3 128.7 150 169.3">伊藤（高砂南）</text></g>
<g id="R38" transform="translate(635,684)"><text class="t" y="33.5" x="27.7 73.3 84.7 114 143.3 169.3">福井（豊岡）</text></g>
<g id="R39" transform="translate(635,702)"><text class="t" y="33.5" x="27.7 73.3 84.7 114 143.3 169.3">荒木（報徳）</text></g>
<g id="R40" transform="translate(635,720)"><text class="t" y="33.5" x="27.7 73.3 84.7 114 143.3 169.3">中山（龍野）</text></g>
<g id="R41" transform="translate(635,738)"><text class="t" y="33.5" x="27.7 73.3 84.7 128.5 169.3">冨貫（社）</text></g>
<g id="R42" transform="translate(635,756)"><text class="t" y="33.5" x="27.7 73.3 84.7 114 143.3 169.3">川戸（伊和）</text></g>
<g id="R43" transform="translate(635,774)"><text class="t" y="33.5" x="27.7 73.3 84.7 102.7 119.8 136.9 154 169.3">橋本（県立大附）</text></g>
<g id="R44" transform="translate(635,792)"><text class="t" y="33.5" x="27.7 73.3 84.7 114 143.3 169.3">村岡（香住）</text></g>
<g id="R45" transform="translate(635,810)"><text class="t" y="33.5" x="27.7 73.3 84.7 107.3 128.7 150 169.3">清水（猪名川）</text></g>
<g id="R46" transform="translate(635,828)"><text class="t" y="33.5" x="27.7 73.3 84.7 114 143.3 169.3">増田（生野）</text></g>
<g id="R47" transform="translate(635,846)"><text class="t" y="33.5" x="27.7 73.3 84.7 107.3 128.7 150 169.3">藤田（宝塚北）</text></g>
<g id="R48" transform="translate(635,864)"><text class="t" y="33.5" x="27.7 73.3 84.7 114 143.3 169.3">大串（明石）</text></g>
<g id="R49" transform="translate(635,882)"><text class="t" y="33.5" x="27.7 73.3 84.7 114 143.3 169.3">秋武（山崎）</text></g>
<g id="R50" transform="translate(635,900)"><text class="t" y="33.5" x="27.7 73.3 84.7 107.3 128.7 150 169.3">川邊（北須磨）</text></g>
<g id="R51" transform="translate(635,918)"><text class="t" y="33.5" x="27.7 50.5 73.3 84.7 114 143.3 169.3">伊地知（滝川）</text></g>
<g id="R52" transform="translate(635,936)"><text class="t" y="33.5" x="27.7 73.3 84.7 114 143.3 169.3">吉田（仁川）</text></g>
<g id="R53" transform="translate(635,954)"><text class="t" y="33.5" x="27.7 73.3 84.7 114 143.3 169.3">大西（上郡）</text></g>
<g id="R54" transform="translate(635,972)"><text class="t" y="33.5" x="27.7 73.3 84.7 107.3 128.7 150 169.3">津本（明石西）</text></g>
<g id="R55" transform="translate(635,990)"><text class="t" y="33.5" x="27.7 73.3 84.7 114 143.3 169.3">若生（甲陽）</text></g>
<g id="R56" transform="translate(635,1008)"><text class="t" y="33.5" x="50 84.7 107.3 128.7 150 169.3">西（洲本実）</text></g>
<g id="R57" transform="translate(635,1026)"><text class="t" y="33.5" x="27.7 73.3 84.7 114 143.3 169.3">西元（多可）</text></g>
<g id="R58" transform="translate(635,1044)"><text class="t" y="33.5" x="27.7 73.3 84.7 107.3 128.7 150 169.3">妻鹿（姫路東）</text></g>
<g id="R59" transform="translate(635,1062)"><text class="t" y="33.5" x="27.7 73.3 84.7 114 143.3 169.3">村中（三原）</text></g>
<g id="R60" transform="translate(635,1080)"><text class="t" y="33.5" x="27.7 73.3 84.7 102.7 119.8 136.9 154 169.3">大谷（北摂三田）</text></g>
<g id="R61" transform="translate(635,1098)"><text class="t" y="33.5" x="27.7 73.3 84.7 114 143.3 169.3">前川（育英）</text></g>
<g id="R62" transform="translate(635,1116)"><text class="t" y="33.5" x="27.7 73.3 84.7 114 143.3 169.3">真野（三原）</text></g>
<g id="R63" transform="translate(635,1134)"><text class="t" y="33.5" x="27.7 73.3 84.7 114 143.3 169.3">木村（御影）</text></g>
<g id="R64" transform="translate(635,1152)"><text class="t" y="33.5" x="27.7 73.3 84.7 114 143.3 169.3">沖野（豊岡）</text></g>
<g id="R65" transform="translate(635,1170)"><text class="t" y="33.5" x="27.7 73.3 84.7 102.7 119.8 136.9 154 169.3">木下（加古川西）</text></g>
<g id="R66" transform="translate(635,1188)"><text class="t" y="33.5" x="27.7 73.3 84.7 107.3 128.7 150 169.3">木村（雲雀丘）</text></g>
<g id="R67" transform="translate(635,1206)"><text class="t" y="33.5" x="27.7 73.3 84.7 114 143.3 169.3">日野（津名）</text></g>
<g id="R68" transform="translate(635,1224)"><text class="t" y="33.5" x="27.7 73.3 84.7 107.3 128.7 150 169.3">中前（県西宮）</text></g>
<g id="R69" transform="translate(635,1242)"><text class="t" y="33.5" x="27.7 73.3 84.7 114 143.3 169.3">西原（六甲）</text></g>
<g id="R70" transform="translate(635,1260)"><text class="t" y="33.5" x="27.7 73.3 84.7 107.3 128.7 150 169.3">木曽（西宮南）</text></g>
<g id="R71" transform="translate(635,1278)"><text class="t" y="33.5" x="27.7 73.3 84.7 107.3 128.7 150 169.3">上田（高砂南）</text></g>
<g id="R72" transform="translate(635,1296)"><text class="t" y="33.5" x="27.7 73.3 84.7 102.7 119.8 136.9 154 169.3">有本（姫路飾西）</text></g>
<g id="R73" transform="translate(635,1314)"><text class="t" y="33.5" x="27.7 73.3 84.7 114 143.3 169.3">千田（市川）</text></g>
<g id="R74" transform="translate(635,1332)"><text class="t" y="33.5" x="27.7 73.3 84.7 102.7 119.8 136.9 154 169.3">斉藤（加古川南）</text></g>
<g id="R75" transform="translate(635,1350)"><text class="t" y="33.5" x="27.7 73.3 84.7 107.3 128.7 150 169.3">岡田（猪名川）</text></g>
<g id="R76" transform="translate(635,1368)"><text class="t" y="33.5" x="27.7 73.3 84.7 107.3 128.7 150 169.3">田村（鈴蘭台）</text></g>
<g id="R77" transform="translate(635,1386)"><text class="t" y="33.5" x="27.7 73.3 84.7 114 143.3 169.3">河原（報徳）</text></g>
<g id="R78" transform="translate(635,1404)"><text class="t" y="33.5" x="27.7 73.3 84.7 107.3 128.7 150 169.3">伊賀（神戸西）</text></g>
<g id="R79" transform="translate(635,1422)"><text class="t" y="33.5" x="27.7 50.5 73.3 84.7 102.7 119.8 136.9 154 169.3">太田垣（豊岡総合）</text></g>
<g id="R80" transform="translate(635,1440)"><text class="t" y="33.5" x="50 84.7 125 165.7">森（舞子</text></g>
<g id="R81" transform="translate(635,1458)"><text class="t" y="33.5" x="27.7 73.3 84.7 102.7 119.8 136.9 154 169.3">永井（三田西陵）</text></g>
<g id="R82" transform="translate(635,1476)"><text class="t" y="33.5" x="27.7 73.3 84.7 114 143.3 169.3">伊藤（滝川）</text></g>
<g id="R83" transform="translate(635,1494)"><text class="t" y="33.5" x="27.7 73.3 84.7 99 113.4 127.8 142.2 156.6 169.3">藤田（東洋大姫路）</text></g>
<g id="R84" transform="translate(635,1512)"><text class="t" y="33.5" x="27.7 73.3 84.7 99 113.4 127.8 142.2 156.6 169.3">大石（近畿大豊岡）</text></g>
<g id="R85" transform="translate(635,1530)"><text class="t" y="33.5" x="27.7 73.3 84.7 107.3 128.7 150 169.3">藤本（西宮東）</text></g>
<g id="R86" transform="translate(635,1548)"><text class="t" y="33.5" x="27.7 73.3 84.7 114 143.3 169.3">兵頭（香寺）</text></g>
<g id="R87" transform="translate(635,1566)"><text class="t" y="33.5" x="27.7 73.3 84.7 114 143.3 169.3">中野（洲本）</text></g>
<g id="R88" transform="translate(635,1584)"><text class="t" y="33.5" x="27.7 73.3 84.7 102.7 119.8 136.9 154 169.3">平塚（神戸甲北）</text></g>
<g id="R89" transform="translate(635,1602)"><text class="t" y="33.5" x="27.7 73.3 84.7 107.3 128.7 150 169.3">高谷（姫路工）</text></g>
<g id="R90" transform="translate(635,1620)"><text class="t" y="33.5" x="27.7 73.3 84.7 114 143.3 169.3">露本（育英）</text></g>
<g id="R91" transform="translate(635,1638)"><text class="t" y="33.5" x="27.7 73.3 84.7 114 143.3 169.3">吉澤（上郡）</text></g>
<g id="R92" transform="translate(635,1656)"><text class="t" y="33.5" x="27.7 73.3 84.7 114 143.3 169.3">奥澤（関学）</text></g>
<g id="R93" transform="translate(635,1674)"><text class="t" y="33.5" x="27.7 73.3 84.7 114 143.3 169.3">奥野（生野）</text></g>
<g id="R94" transform="translate(635,1692)"><text class="t" y="33.5" x="27.7 73.3 84.7 102.7 119.8 136.9 154 169.3">絹谷（日生第三）</text></g>
<g id="R95" transform="translate(635,1710)"><text class="t" y="33.5" x="27.7 73.3 84.7 102.7 119.8 136.9 154 169.3">酒井（篠山鳳鳴）</text></g>
<g id="R96" transform="translate(635,1728)"><text class="t" y="33.5" x="27.7 73.3 84.7 107.3 128.7 150 169.3">田中（神戸北）</text></g>
<g id="R97" transform="translate(635,1746)"><text class="t" y="33.5" x="27.7 73.3 84.7 107.3 128.7 150 169.3">和泉（姫路西）</text></g>
<g id="R98" transform="translate(635,1764)"><text class="t" y="33.5" x="50 84.7 107.3 128.7 150 169.3">森（宝塚西）</text></g>
<g id="R99" transform="translate(635,1782)"><text class="t" y="33.5" x="27.7 73.3 84.7 107.3 128.7 150 169.3">岡村（兵庫工）</text></g>
<g id="R100" transform="translate(635,1800)"><text class="t" y="33.5" x="27.7 73.3 84.7 114 143.3 169.3">小林（北条）</text></g>
<g id="R101" transform="translate(635,1818)"><text class="t" y="33.5" x="27.7 73.3 84.7 107.3 128.7 150 169.3">矢野（県伊丹）</text></g>
<g id="R102" transform="translate(635,1836)"><text class="t" y="33.5" x="27.7 73.3 84.7 114 143.3 169.3">近藤（太子）</text></g>
<g id="R103" transform="translate(635,1854)"><text class="t" y="33.5" x="27.7 73.3 84.7 114 143.3 169.3">荒木（松陽）</text></g>
<g id="R104" transform="translate(635,1872)"><text class="t" y="33.5" x="27.7 73.3 84.7 107.3 128.7 150 169.3">須田（夢野台）</text></g>
<g id="R105" transform="translate(635,1890)"><text class="t" y="33.5" x="27.7 73.3 84.7 102.7 119.8 136.9 154 169.3">渡邊（川西北陵）</text></g>
<g id="R106" transform="translate(635,1908)"><text class="t" y="33.5" x="27.7 73.3 84.7 107.3 128.7 150 169.3">岩谷（北須磨）</text></g>
<g id="R107" transform="translate(635,1926)"><text class="t" y="33.5" x="27.7 73.3 84.7 107.3 128.7 150 169.3">守口（東播磨）</text></g>
<g id="R108" transform="translate(635,1944)"><text class="t" y="33.5" x="27.7 73.3 84.7 114 143.3 169.3">松田（姫路）</text></g>
<g id="R109" transform="translate(635,1962)"><text class="t" y="33.5" x="27.7 73.3 84.7 107.3 128.7 150 169.3">春名（飾磨工）</text></g>
<g id="R110" transform="translate(635,1980)"><text class="t" y="33.5" x="27.7 73.3 84.7 107.3 128.7 150 169.3">山端（明石西）</text></g>
<g id="R111" transform="translate(635,1998)"><text class="t" y="33.5" x="27.7 73.3 84.7 102.7 119.8 136.9 154 169.3">井上（明石清水）</text></g>
<g id="R112" transform="translate(635,2016)"><text class="t" y="33.5" x="27.7 73.3 84.7 114 143.3 169.3">河野（赤穂）</text></g>
<g id="R113" transform="translate(635,2034)"><text class="t" y="33.5" x="27.7 73.3 84.7 114 143.3 169.3">田中（葺合）</text></g>
<g id="R114" transform="translate(635,2052)"><text class="t" y="33.5" x="27.7 73.3 84.7 114 143.3 169.3">森本（有馬）</text></g>
<g id="R115" transform="translate(635,2070)"><text class="t" y="33.5" x="27.7 73.3 84.7 107.3 128.7 150 169.3">松本（東播工）</text></g>
<g id="R116" transform="translate(635,2088)"><text class="t" y="33.5" x="27.7 73.3 84.7 102.7 119.8 136.9 154 169.3">安田（川西緑台）</text></g>
<g id="R117" transform="translate(635,2106)"><text class="t" y="33.5" x="27.7 73.3 84.7 107.3 128.7 150 169.3">正井（明石商）</text></g>
<g id="R118" transform="translate(635,2124)"><text class="t" y="33.5" x="27.7 73.3 84.7 114 143.3 169.3">藤井（三田）</text></g>
<g id="R119" transform="translate(635,2142)"><text class="t" y="33.5" x="27.7 73.3 84.7 114 143.3 169.3">立花（淳心）</text></g>
<g id="R120" transform="translate(635,2160)"><text class="t" y="33.5" x="27.7 73.3 84.7 107.3 128.7 150 169.3">三原（県芦屋）</text></g>
<g id="R121" transform="translate(635,2178)"><text class="t" y="33.5" x="50 84.7 102.7 119.8 136.9 154 169.3">林（滝川第二）</text></g>
<g id="R122" transform="translate(635,2196)"><text class="t" y="33.5" x="27.7 73.3 84.7 128.5 169.3">松本（柳）</text></g>
<g id="R123" transform="translate(635,2214)"><text class="t" y="33.5" x="27.7 73.3 84.7 114 143.3 169.3">椿原（育英）</text></g>
</g>
</svg>
